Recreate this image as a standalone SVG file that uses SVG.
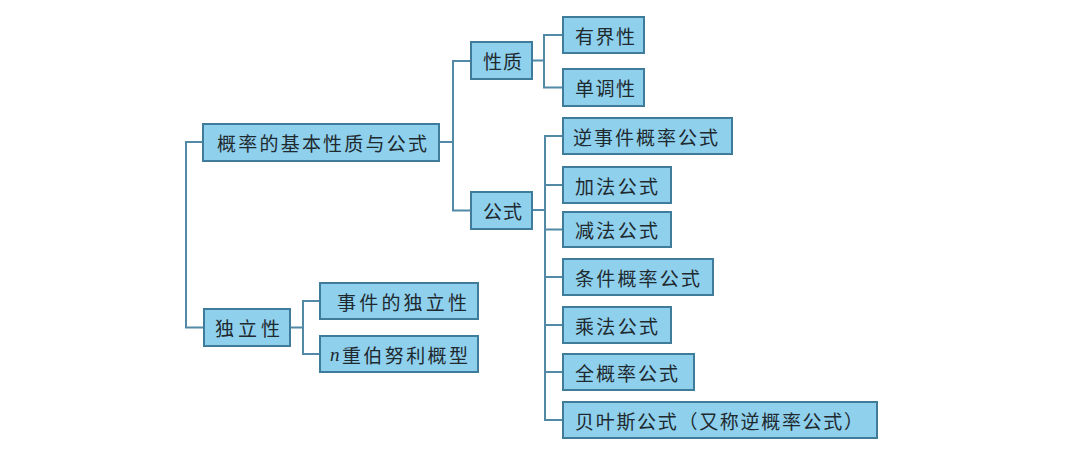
<svg xmlns="http://www.w3.org/2000/svg" width="1080" height="456" viewBox="0 0 1080 456">
<style>
.box{fill:#8fd0ec;stroke:#3f7c9c;stroke-width:2}
.t{font-family:"Noto Sans CJK SC","Noto Sans CJK TC",sans-serif;font-size:19px;fill:#1e2a30;dominant-baseline:central}
.i{font-family:"Liberation Serif",serif;font-style:italic}
.c{fill:none;stroke:#5189a6;stroke-width:2}
</style>
<rect width="1080" height="456" fill="#ffffff"/>
<g id="connectors">
<path class="c" d="M203 142 H186 V327.5 H204"/>
<path class="c" d="M439 142 H453 M471 61 H453 V210.5 H471"/>
<path class="c" d="M532 60.5 H544 M563 35 H544 V87.5 H563"/>
<path class="c" d="M532 210 H545 M563 136 H545 V420 H563 M545 185 H563 M545 229.5 H563 M545 277 H563 M545 325 H563 M545 372 H563"/>
<path class="c" d="M290 327.5 H303 M320 301 H303 V354 H320"/>
</g>
<g id="root"><rect class="box" x="203" y="124" width="236" height="37"/><text class="t" x="217" y="142.5" textLength="210" lengthAdjust="spacing">概率的基本性质与公式</text></g>
<g id="xingzhi"><rect class="box" x="471" y="42" width="61" height="37"/><text class="t" x="483" y="60.5" textLength="39" lengthAdjust="spacing">性质</text></g>
<g id="youjiexing"><rect class="box" x="563" y="17" width="81" height="36"/><text class="t" x="575" y="35" textLength="60" lengthAdjust="spacing">有界性</text></g>
<g id="dandiaoxing"><rect class="box" x="563" y="69" width="81" height="37"/><text class="t" x="575" y="87.5" textLength="60" lengthAdjust="spacing">单调性</text></g>
<g id="gongshi"><rect class="box" x="471" y="192" width="61" height="37"/><text class="t" x="483" y="210.5" textLength="39" lengthAdjust="spacing">公式</text></g>
<g id="nishijian"><rect class="box" x="563" y="118" width="169" height="36"/><text class="t" x="573" y="136" textLength="145" lengthAdjust="spacing">逆事件概率公式</text></g>
<g id="jiafa"><rect class="box" x="563" y="167" width="108" height="36"/><text class="t" x="575" y="185" textLength="83" lengthAdjust="spacing">加法公式</text></g>
<g id="jianfa"><rect class="box" x="563" y="212" width="108" height="35"/><text class="t" x="575" y="229.5" textLength="83" lengthAdjust="spacing">减法公式</text></g>
<g id="tiaojian"><rect class="box" x="563" y="259" width="150" height="36"/><text class="t" x="575" y="277" textLength="125" lengthAdjust="spacing">条件概率公式</text></g>
<g id="chengfa"><rect class="box" x="563" y="307" width="108" height="36"/><text class="t" x="575" y="325" textLength="83" lengthAdjust="spacing">乘法公式</text></g>
<g id="quangailv"><rect class="box" x="563" y="354" width="131" height="36"/><text class="t" x="575" y="372" textLength="103" lengthAdjust="spacing">全概率公式</text></g>
<g id="beiyesi"><rect class="box" x="563" y="402" width="314" height="36"/><text class="t" x="575" y="420" textLength="288" lengthAdjust="spacing">贝叶斯公式（又称逆概率公式）</text></g>
<g id="dulixing"><rect class="box" x="204" y="309" width="86" height="37"/><text class="t" x="215" y="327.5" textLength="65" lengthAdjust="spacing">独立性</text></g>
<g id="shijiandulixing"><rect class="box" x="320" y="283" width="158" height="36"/><text class="t" x="337" y="301" textLength="130" lengthAdjust="spacing">事件的独立性</text></g>
<g id="bernoulli"><rect class="box" x="320" y="336" width="158" height="36"/><text class="t" x="330" y="354" textLength="138" lengthAdjust="spacing"><tspan class="i">n</tspan>重伯努利概型</text></g>
</svg>
